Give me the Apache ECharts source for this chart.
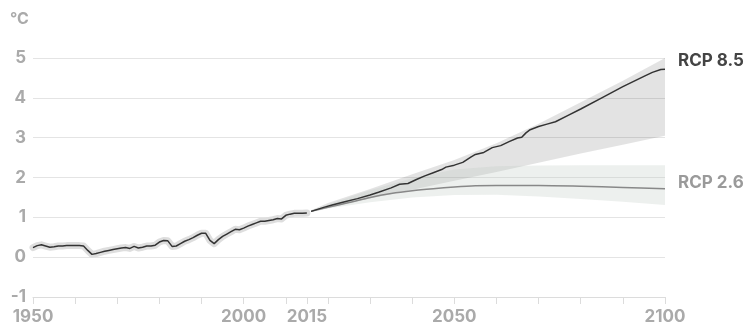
<!DOCTYPE html>
<html><head><meta charset="utf-8">
<script src="https://cdn.jsdelivr.net/npm/echarts@6/dist/echarts.min.js"></script>
<style>html,body{margin:0;padding:0;background:#fff}#c{width:748px;height:325px}</style>
</head><body><div id="c"></div>
<script>
// Historical observed anomaly (°C)
const histYears = [1950,1951,1952,1953,1954,1955,1956,1957,1958,1959,1960,1961,1962,1963,1964,1965,1966,1967,1968,1969,1970,1971,1972,1973,1974,1975,1976,1977,1978,1979,1980,1981,1982,1983,1984,1985,1986,1987,1988,1989,1990,1991,1992,1993,1994,1995,1996,1997,1998,1999,2000,2001,2002,2003,2004,2005,2006,2007,2008,2009,2010,2011,2012,2013,2014,2015];
const histValues = [0.24,0.29,0.31,0.28,0.25,0.26,0.28,0.28,0.29,0.29,0.29,0.29,0.28,0.17,0.07,0.09,0.12,0.15,0.17,0.19,0.21,0.23,0.24,0.22,0.27,0.23,0.25,0.28,0.28,0.30,0.38,0.42,0.41,0.27,0.28,0.34,0.40,0.44,0.49,0.55,0.60,0.60,0.42,0.34,0.44,0.52,0.58,0.64,0.70,0.69,0.73,0.78,0.82,0.86,0.90,0.90,0.92,0.94,0.97,0.96,1.05,1.08,1.10,1.10,1.10,1.11];

// RCP 8.5 central projection
const rcp85Years = [2016,2019,2021,2024,2027,2030,2032,2035,2037,2039,2041,2043,2045,2047,2048,2050,2052,2054,2055,2057,2059,2061,2063,2065,2066,2067,2068,2070,2072,2074,2077,2080,2085,2090,2095,2097,2099,2100];
const rcp85Values = [1.15,1.25,1.31,1.39,1.47,1.56,1.63,1.74,1.83,1.85,1.95,2.04,2.12,2.20,2.26,2.31,2.38,2.52,2.58,2.63,2.75,2.80,2.90,2.99,3.01,3.12,3.20,3.28,3.34,3.40,3.56,3.72,4.00,4.28,4.54,4.64,4.71,4.72];

// RCP 2.6 central projection
const rcp26Years = [2016,2020,2025,2030,2035,2040,2045,2050,2055,2060,2070,2080,2090,2100];
const rcp26Values = [1.15,1.25,1.37,1.50,1.60,1.67,1.72,1.76,1.79,1.80,1.80,1.78,1.75,1.72];

// Uncertainty ranges
const bandYears = [2016,2020,2030,2040,2050,2060,2070,2080,2090,2100];
const rcp85Low  = [1.15,1.24,1.47,1.69,1.92,2.14,2.37,2.60,2.82,3.05];
const rcp85High = [1.18,1.36,1.71,2.08,2.44,2.86,3.35,3.89,4.43,5.00];
const rcp26Low  = [1.13,1.22,1.38,1.50,1.56,1.57,1.52,1.46,1.39,1.31];
const rcp26High = [1.17,1.32,1.68,1.98,2.20,2.28,2.30,2.31,2.31,2.31];

// Axis ticks / labels
const yTicks = [-1,0,1,2,3,4,5];
const xTickYears = [1950,1960,1970,1980,1990,2000,2010,2015,2020,2030,2040,2050,2060,2070,2080,2090,2100];
const xLabelYears = [1950,2000,2015,2050,2100];
const seriesNames = ['RCP 8.5','RCP 2.6'];

const zip = (xs, ys) => xs.map((x, i) => [x, ys[i]]);
const FONT = 'Inter, "Open Sans", sans-serif';

function bandSeries(years, low, high, fill) {
  return {
    type: 'custom', silent: true, z: 1,
    data: years.map((y, i) => [y, low[i], high[i]]),
    encode: {x: 0, y: [1, 2]},
    renderItem: function (params, api) {
      if (params.dataIndex !== 0) return null;
      const top = years.map((y, i) => api.coord([y, high[i]]));
      const bottom = years.map((y, i) => api.coord([y, low[i]])).reverse();
      return {type: 'polygon', shape: {points: top.concat(bottom)}, style: {fill: fill}};
    }
  };
}

const chart = echarts.init(document.getElementById('c'), null, {renderer: 'canvas'});
chart.setOption({
  animation: false,
  backgroundColor: '#fff',
  grid: {left: 33, right: 83, top: 58, bottom: 27},
  xAxis: {
    type: 'value', min: 1950, max: 2100, interval: 5,
    axisLine: {onZero: false, lineStyle: {color: '#dcdcdc', width: 1}},
    axisTick: {show: true, length: 7, lineStyle: {color: '#dcdcdc'}, customValues: xTickYears},
    axisLabel: {customValues: xLabelYears, formatter: v => String(v), color: '#aaaaaa', fontSize: 17, fontWeight: 'bold', fontFamily: FONT, margin: 11},
    splitLine: {show: false}
  },
  yAxis: {
    type: 'value', min: yTicks[0], max: yTicks[yTicks.length - 1], interval: 1,
    axisLine: {show: false}, axisTick: {show: false},
    axisLabel: {color: '#aaaaaa', fontSize: 17, fontWeight: 'bold', fontFamily: FONT, margin: 7},
    splitLine: {lineStyle: {color: '#e4e4e4', width: 1}}
  },
  graphic: [
    {type: 'text', left: 10, top: 11, style: {text: '°C', fill: '#aaaaaa', font: 'bold 16px ' + FONT}},
    {type: 'text', left: 678, top: 52, style: {text: seriesNames[0], fill: '#444444', font: 'bold 17px ' + FONT}},
    {type: 'text', left: 678, top: 174, style: {text: seriesNames[1], fill: '#9a9a9a', font: 'bold 17px ' + FONT}}
  ],
  series: [
    bandSeries(bandYears, rcp85Low, rcp85High, 'rgba(0,0,0,0.11)'),
    bandSeries(bandYears, rcp26Low, rcp26High, 'rgba(190,200,195,0.28)'),
    {type: 'line', data: zip(histYears, histValues), symbol: 'none', lineStyle: {color: '#dedede', width: 7, join: 'round', cap: 'round'}, silent: true, z: 3},
    {type: 'line', data: zip(histYears, histValues), symbol: 'none', lineStyle: {color: '#333333', width: 1.5}, silent: true, z: 4},
    {type: 'line', name: seriesNames[1], data: zip(rcp26Years, rcp26Values), symbol: 'none', smooth: 0.3, lineStyle: {color: '#888888', width: 1.5}, silent: true, z: 4},
    {type: 'line', name: seriesNames[0], data: zip(rcp85Years, rcp85Values), symbol: 'none', lineStyle: {color: '#333333', width: 1.5}, silent: true, z: 5}
  ]
});
</script></body></html>
